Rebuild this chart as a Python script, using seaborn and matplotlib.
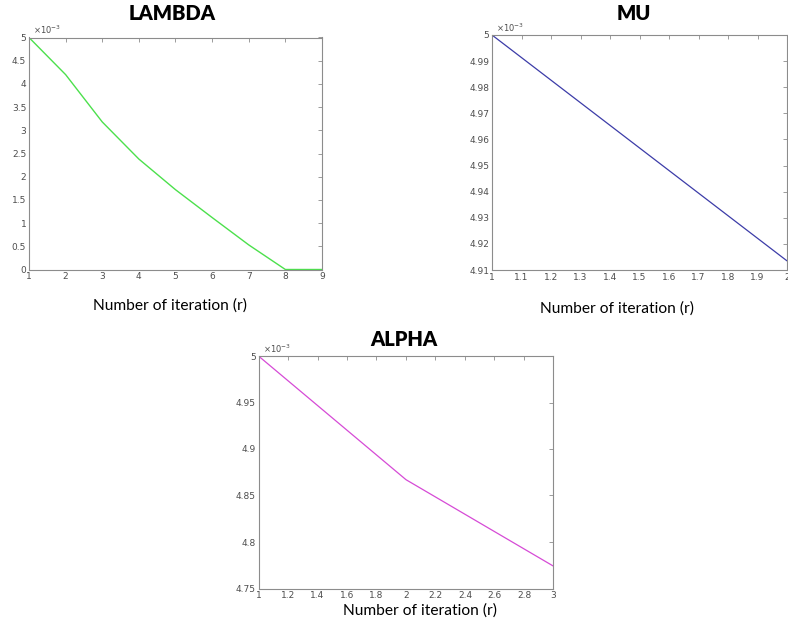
import numpy as np
import pandas as pd
import matplotlib
matplotlib.use("Agg")
import matplotlib.pyplot as plt
from matplotlib.ticker import FuncFormatter, MultipleLocator
import seaborn as sns

# Values (units of 1e-3)
lambda_iter = [1, 2, 3, 4, 5, 6, 7, 8, 9]
lambda_vals = [5.0, 4.2, 3.18, 2.38, 1.72, 1.12, 0.53, 0.0, 0.0]

mu_iter = [1, 2]
mu_vals = [5.0, 4.9135]

alpha_iter = [1, 2, 3]
alpha_vals = [5.0, 4.867, 4.774]

TITLE_FONT = "Lato"
TICK_COLOR = "#4d4d4d"
SPINE_COLOR = "#8c8c8c"

sns.set_style("white")

fig = plt.figure(figsize=(7.88, 6.25), dpi=100)
W, H = 788, 625


def px_axes(left, top, right, bottom):
    return fig.add_axes([left / W, 1 - bottom / H, (right - left) / W, (bottom - top) / H])


def matlab_style(ax, title, ylim, xlim, xstep, ystep, title_pos, xlabel_pos):
    ax.set_xlim(*xlim)
    ax.set_ylim(*ylim)
    ax.xaxis.set_major_locator(MultipleLocator(xstep))
    ax.yaxis.set_major_locator(MultipleLocator(ystep))
    ax.xaxis.set_major_formatter(FuncFormatter(lambda v, p: f"{round(v, 4):g}"))
    ax.yaxis.set_major_formatter(FuncFormatter(lambda v, p: f"{round(v, 4):g}"))
    ax.tick_params(direction="in", length=3, width=0.6, colors=SPINE_COLOR,
                   labelcolor=TICK_COLOR, labelsize=6.5, top=True, right=True, pad=2)
    for s in ax.spines.values():
        s.set_visible(True)
        s.set_color(SPINE_COLOR)
        s.set_linewidth(0.8)
    ax.set_xlabel("")
    ax.set_ylabel("")
    # MATLAB-style exponent label
    ax.text(0.015, 1.005, r"$\times10^{-3}$", transform=ax.transAxes, fontsize=6,
            color=TICK_COLOR, va="bottom", ha="left")
    fig.text(title_pos[0] / W, 1 - title_pos[1] / H, title, fontsize=14.5, fontweight="heavy",
             family=TITLE_FONT, ha="center", va="center", color="black")
    fig.text(xlabel_pos[0] / W, 1 - xlabel_pos[1] / H, "Number of iteration (r)", fontsize=11.2,
             family=TITLE_FONT, ha="center", va="center", color="black")


# LAMBDA
ax1 = px_axes(29, 37.5, 322, 269.5)
df1 = pd.DataFrame({"r": lambda_iter, "v": lambda_vals})
sns.lineplot(data=df1, x="r", y="v", ax=ax1, color="#4ce04c", linewidth=1.0)
matlab_style(ax1, "LAMBDA", (0, 5), (1, 9), 1, 0.5, (172, 13), (170, 306))

# MU
ax2 = px_axes(492, 35, 787, 270)
df2 = pd.DataFrame({"r": mu_iter, "v": mu_vals})
sns.lineplot(data=df2, x="r", y="v", ax=ax2, color="#3c3ca8", linewidth=0.9)
matlab_style(ax2, "MU", (4.91, 5.0), (1, 2), 0.1, 0.01, (634, 13), (617, 309))

# ALPHA
ax3 = px_axes(258.5, 356, 553.5, 588.5)
df3 = pd.DataFrame({"r": alpha_iter, "v": alpha_vals})
sns.lineplot(data=df3, x="r", y="v", ax=ax3, color="#d64bd6", linewidth=0.9)
matlab_style(ax3, "ALPHA", (4.75, 5.0), (1, 3), 0.2, 0.05, (404, 339), (420, 611))

fig.savefig("out.png", dpi=100)
